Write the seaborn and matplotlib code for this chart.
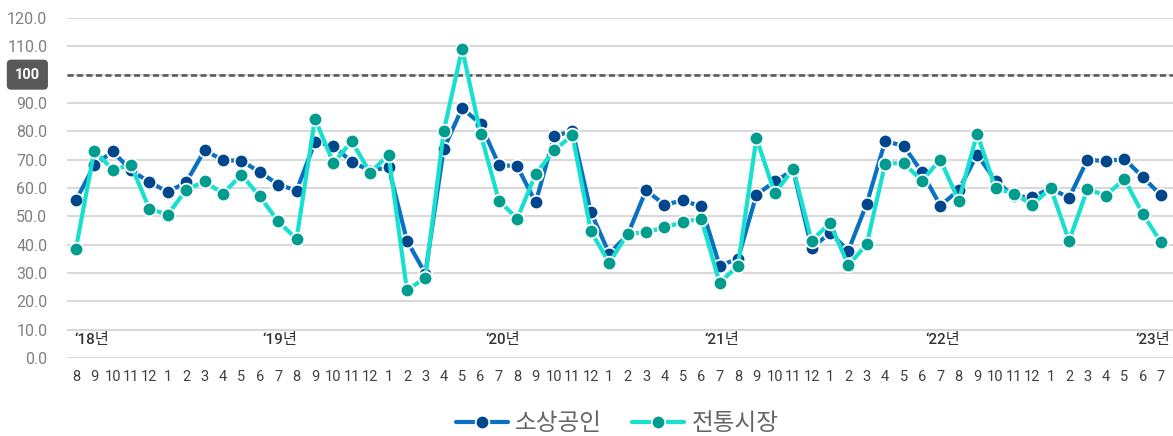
import pandas as pd
import matplotlib
matplotlib.use('Agg')
import matplotlib.pyplot as plt
import matplotlib.transforms as mtransforms
import seaborn as sns

# 월별 체감지수 (2018.08 ~ 2023.07)
months = [str(m) for m in pd.date_range('2018-08-01', '2023-07-01', freq='MS').month]

small_biz = [55.6, 68.0, 72.9, 66.2, 62.1, 58.6, 62.0, 73.3, 69.8, 69.6,
             65.6, 61.2, 59.1, 76.2, 74.9, 69.2, 66.1, 67.3, 41.4, 29.8,
             73.8, 88.2, 82.6, 68.2, 67.6, 54.9, 78.2, 80.2, 51.5, 36.8,
             43.5, 59.2, 54.1, 55.6, 53.5, 32.6, 35.0, 57.6, 62.3, 66.3,
             38.8, 44.1, 37.9, 54.5, 76.5, 74.9, 65.6, 53.8, 59.2, 71.8,
             62.6, 57.0, 56.8, 59.9, 56.5, 70.0, 69.4, 70.3, 63.9, 57.4]

market = [38.5, 73.2, 66.5, 68.0, 52.6, 50.6, 59.4, 62.3, 58.0, 64.7,
          57.0, 48.2, 42.0, 84.5, 68.8, 76.5, 65.3, 71.8, 23.9, 28.3,
          80.0, 109.2, 79.2, 55.5, 49.2, 65.0, 73.3, 78.6, 44.7, 33.6,
          43.9, 44.3, 46.1, 47.9, 49.2, 26.5, 32.6, 77.6, 58.1, 66.8,
          41.4, 47.6, 32.7, 40.2, 68.6, 68.8, 62.6, 70.0, 55.5, 79.1,
          60.0, 58.0, 54.1, 60.0, 41.4, 59.6, 57.3, 63.2, 50.9, 40.8]

year_labels = ['‘18년', '‘19년', '‘20년', '‘21년', '‘22년', '‘23년']
year_label_pos = [0.85, 11.1, 23.2, 35.1, 47.1, 58.55]

idx = list(range(len(months)))

sns.set_style('white')
plt.rcParams['font.family'] = ['Roboto', 'Noto Sans CJK KR', 'DejaVu Sans']

fig = plt.figure(figsize=(11.73, 4.36), dpi=100)
ax = fig.add_axes([0.057, 0.179, 0.943, 0.7797])

# grid
for v in range(0, 121, 10):
    ax.axhline(v, color='#D9D9D9', lw=1.5, zorder=0)
ax.axhline(100, color='#555555', lw=1.8, ls=(0, (2.4, 1.4)), zorder=1)

sns.lineplot(x=idx, y=small_biz, ax=ax, color='#0A70C2', lw=2.3,
             marker='o', markersize=9.8, markerfacecolor='#00468C',
             markeredgecolor='white', markeredgewidth=1.3,
             label='소상공인', zorder=3)
sns.lineplot(x=idx, y=market, ax=ax, color='#17E0D1', lw=2.3,
             marker='o', markersize=9.8, markerfacecolor='#009C8E',
             markeredgecolor='white', markeredgewidth=1.3,
             label='전통시장', zorder=4)

ax.set_xlim(-0.49, 59.65)
ax.set_ylim(0, 120)
ax.set_yticks(range(0, 121, 10))
ax.set_yticklabels([f'{v:.1f}' for v in range(0, 121, 10)],
                   color='#808080', fontsize=11.5)
ax.set_xticks(idx)
ax.set_xticklabels(months, color='#404040', fontsize=10.5)
ax.tick_params(axis='both', length=0)
ax.tick_params(axis='x', pad=9)
ax.tick_params(axis='y', pad=14)
ax.set_xlabel('')
ax.set_ylabel('')
for s in ax.spines.values():
    s.set_visible(False)

for lab, pos in zip(year_labels, year_label_pos):
    ax.text(pos, 6.4, lab, ha='center', va='center', fontsize=11,
            color='#333333', fontweight='medium')

# 100 기준선 라벨
trans = mtransforms.blended_transform_factory(ax.transAxes, ax.transData)
ax.text(-0.0357, 100, '100', transform=trans, ha='center', va='center',
        fontsize=10.5, color='white', fontweight='bold', clip_on=False,
        bbox=dict(boxstyle='round,pad=0.55,rounding_size=0.3',
                  fc='#595959', ec='none'))
for t in ax.get_yticklabels():
    if t.get_text() == '100.0':
        t.set_visible(False)

handles, labels = ax.get_legend_handles_labels()
ax.get_legend().remove()
for h in handles:
    h.set_linewidth(3)
fig.legend(handles, labels, loc='center', bbox_to_anchor=(0.526, 0.028),
           ncol=2, frameon=False, fontsize=17, handlelength=2.2,
           columnspacing=1.3, handletextpad=0.3, labelcolor='#666666')

fig.savefig('out.png', dpi=100)
